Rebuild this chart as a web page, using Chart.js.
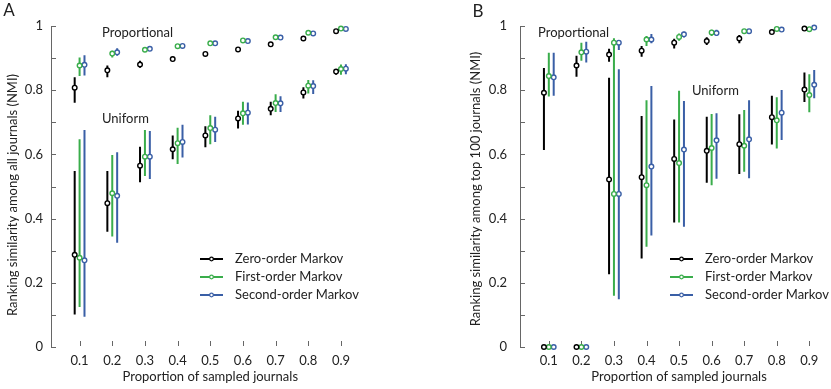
<!DOCTYPE html>
<html>
<head>
<meta charset="utf-8">
<script src="https://cdn.jsdelivr.net/npm/chart.js@4.4.1/dist/chart.umd.min.js"></script>
<style>
  html, body { margin: 0; padding: 0; background: #fff; }
  #wrap { position: relative; width: 831px; height: 389px; }
  canvas { position: absolute; top: 0; }
  #chartA { left: 0; }
  #chartB { left: 415px; }
</style>
</head>
<body>
<div id="wrap">
  <canvas id="chartA" width="415" height="389"></canvas>
  <canvas id="chartB" width="416" height="389"></canvas>
</div>
<script>
// Datos
const proportions = [0.1, 0.2, 0.3, 0.4, 0.5, 0.6, 0.7, 0.8, 0.9];
const xTickLabels = ['0.1', '0.2', '0.3', '0.4', '0.5', '0.6', '0.7', '0.8', '0.9'];
const yTickValues = [0, 0.2, 0.4, 0.6, 0.8, 1];
const yTickLabels = ['0', '0.2', '0.4', '0.6', '0.8', '1'];
const yTickMarks = [0, 0.1, 0.2, 0.3, 0.4, 0.5, 0.6, 0.7, 0.8, 0.9, 1];
const seriesNames = ['Zero-order Markov', 'First-order Markov', 'Second-order Markov'];

// Panel A: todas las revistas, muestreo proporcional
const allPropZeroMean = [0.808, 0.862, 0.880, 0.897, 0.913, 0.927, 0.943, 0.961, 0.984];
const allPropZeroLo   = [0.761, 0.840, 0.870, 0.890, 0.907, 0.922, 0.938, 0.957, 0.981];
const allPropZeroHi   = [0.840, 0.877, 0.892, 0.904, 0.919, 0.932, 0.948, 0.965, 0.987];
const allPropFirstMean = [0.877, 0.914, 0.926, 0.937, 0.946, 0.955, 0.965, 0.979, 0.992];
const allPropFirstLo   = [0.844, 0.902, 0.920, 0.933, 0.943, 0.952, 0.962, 0.977, 0.990];
const allPropFirstHi   = [0.902, 0.923, 0.932, 0.941, 0.949, 0.958, 0.968, 0.981, 0.994];
const allPropSecondMean = [0.879, 0.918, 0.929, 0.938, 0.946, 0.953, 0.964, 0.977, 0.991];
const allPropSecondLo   = [0.846, 0.907, 0.923, 0.934, 0.943, 0.950, 0.961, 0.975, 0.989];
const allPropSecondHi   = [0.909, 0.931, 0.935, 0.942, 0.949, 0.956, 0.967, 0.979, 0.993];

// Panel A: todas las revistas, muestreo uniforme
const allUnifZeroMean = [0.287, 0.448, 0.565, 0.616, 0.659, 0.712, 0.742, 0.793, 0.858];
const allUnifZeroLo   = [0.101, 0.359, 0.513, 0.585, 0.622, 0.681, 0.722, 0.774, 0.848];
const allUnifZeroHi   = [0.548, 0.548, 0.624, 0.659, 0.688, 0.736, 0.764, 0.809, 0.865];
const allUnifFirstMean = [0.278, 0.479, 0.593, 0.635, 0.682, 0.728, 0.760, 0.814, 0.866];
const allUnifFirstLo   = [0.125, 0.344, 0.533, 0.570, 0.632, 0.692, 0.732, 0.790, 0.848];
const allUnifFirstHi   = [0.647, 0.598, 0.676, 0.683, 0.722, 0.764, 0.787, 0.832, 0.880];
const allUnifSecondMean = [0.270, 0.471, 0.593, 0.639, 0.677, 0.730, 0.759, 0.813, 0.867];
const allUnifSecondLo   = [0.094, 0.325, 0.523, 0.590, 0.639, 0.693, 0.732, 0.788, 0.850];
const allUnifSecondHi   = [0.676, 0.607, 0.673, 0.692, 0.717, 0.762, 0.781, 0.831, 0.881];

// Panel B: top 100, muestreo proporcional
const topPropZeroMean = [0.792, 0.877, 0.911, 0.923, 0.948, 0.953, 0.961, 0.981, 0.992];
const topPropZeroLo   = [0.614, 0.842, 0.889, 0.904, 0.930, 0.941, 0.946, 0.975, 0.990];
const topPropZeroHi   = [0.869, 0.907, 0.929, 0.938, 0.960, 0.965, 0.972, 0.986, 0.995];
const topPropFirstMean = [0.844, 0.918, 0.948, 0.958, 0.966, 0.980, 0.984, 0.991, 0.990];
const topPropFirstLo   = [0.780, 0.892, 0.930, 0.938, 0.954, 0.969, 0.978, 0.988, 0.988];
const topPropFirstHi   = [0.917, 0.948, 0.962, 0.969, 0.977, 0.988, 0.990, 0.994, 0.993];
const topPropSecondMean = [0.840, 0.920, 0.948, 0.958, 0.974, 0.978, 0.984, 0.989, 0.995];
const topPropSecondLo   = [0.783, 0.886, 0.925, 0.946, 0.964, 0.969, 0.978, 0.986, 0.993];
const topPropSecondHi   = [0.917, 0.951, 0.954, 0.975, 0.982, 0.988, 0.990, 0.992, 0.997];

// Panel B: top 100, muestreo uniforme
const topUnifZeroMean = [0, 0, 0.522, 0.529, 0.586, 0.611, 0.632, 0.716, 0.802];
const topUnifZeroLo   = [0, 0, 0.227, 0.276, 0.388, 0.512, 0.539, 0.631, 0.763];
const topUnifZeroHi   = [0, 0, 0.839, 0.720, 0.709, 0.717, 0.725, 0.783, 0.855];
const topUnifFirstMean = [0, 0, 0.477, 0.504, 0.573, 0.620, 0.627, 0.706, 0.785];
const topUnifFirstLo   = [0, 0, 0.160, 0.312, 0.388, 0.504, 0.546, 0.618, 0.731];
const topUnifFirstHi   = [0, 0, 0.955, 0.769, 0.798, 0.726, 0.738, 0.778, 0.850];
const topUnifSecondMean = [0, 0, 0.477, 0.562, 0.615, 0.644, 0.647, 0.730, 0.817];
const topUnifSecondLo   = [0, 0, 0.149, 0.347, 0.375, 0.524, 0.526, 0.645, 0.775];
const topUnifSecondHi   = [0, 0, 0.865, 0.813, 0.766, 0.728, 0.769, 0.801, 0.863];

// Estilos
const seriesColors = ['#000000', '#3aad4b', '#3a5fa6'];
const seriesOffsets = [-0.015, 0, 0.015];
const FONT = 'Lato';
const TEXT_COLOR = '#222';

const panelA = {
    prop: [
        [allPropZeroMean, allPropZeroLo, allPropZeroHi],
        [allPropFirstMean, allPropFirstLo, allPropFirstHi],
        [allPropSecondMean, allPropSecondLo, allPropSecondHi]
    ],
    unif: [
        [allUnifZeroMean, allUnifZeroLo, allUnifZeroHi],
        [allUnifFirstMean, allUnifFirstLo, allUnifFirstHi],
        [allUnifSecondMean, allUnifSecondLo, allUnifSecondHi]
    ]
};
const panelB = {
    prop: [
        [topPropZeroMean, topPropZeroLo, topPropZeroHi],
        [topPropFirstMean, topPropFirstLo, topPropFirstHi],
        [topPropSecondMean, topPropSecondLo, topPropSecondHi]
    ],
    unif: [
        [topUnifZeroMean, topUnifZeroLo, topUnifZeroHi],
        [topUnifFirstMean, topUnifFirstLo, topUnifFirstHi],
        [topUnifSecondMean, topUnifSecondLo, topUnifSecondHi]
    ]
};

// Barras de error: segmentos separados por huecos (y: null)
function errorBarData(lo, hi, off) {
    const pts = [];
    proportions.forEach((p, i) => {
        pts.push({ x: p + off, y: lo[i] }, { x: p + off, y: hi[i] }, { x: p + off, y: null });
    });
    return pts;
}

function markerData(mean, off) {
    return proportions.map((p, i) => ({ x: p + off, y: mean[i] }));
}

function makeDatasets(panel) {
    const ds = [];
    ['prop', 'unif'].forEach(cond => {
        panel[cond].forEach((s, k) => {
            ds.push({
                type: 'line',
                data: errorBarData(s[1], s[2], seriesOffsets[k]),
                borderColor: seriesColors[k],
                borderWidth: 2,
                pointRadius: 0,
                showLine: true,
                spanGaps: false,
                order: 2,
                clip: false
            });
        });
    });
    ['prop', 'unif'].forEach(cond => {
        panel[cond].forEach((s, k) => {
            ds.push({
                type: 'scatter',
                data: markerData(s[0], seriesOffsets[k]),
                pointRadius: 2.3,
                pointBorderWidth: 1.4,
                pointBackgroundColor: '#fff',
                pointBorderColor: seriesColors[k],
                order: 1,
                clip: false
            });
        });
    });
    return ds;
}

// Plugin para ticks interiores, títulos, anotaciones y leyenda
function decor(opt) {
    return {
        id: 'decor',
        beforeDatasetsDraw(chart) {
            const ctx = chart.ctx;
            const { left, bottom } = chart.chartArea;
            const xs = chart.scales.x, ys = chart.scales.y;
            ctx.save();
            ctx.strokeStyle = '#666';
            ctx.lineWidth = 1;
            ctx.beginPath();
            yTickMarks.forEach(v => {
                const py = Math.round(ys.getPixelForValue(v)) + 0.5;
                ctx.moveTo(left, py);
                ctx.lineTo(left + 5, py);
            });
            proportions.forEach(v => {
                const px = Math.round(xs.getPixelForValue(v)) + 0.5;
                ctx.moveTo(px, bottom - 1);
                ctx.lineTo(px, bottom - 6);
            });
            ctx.stroke();
            ctx.restore();
        },
        afterDraw(chart) {
            const ctx = chart.ctx;
            const xs = chart.scales.x;
            ctx.save();
            ctx.fillStyle = TEXT_COLOR;
            ctx.textBaseline = 'middle';

            ctx.font = '17px ' + FONT;
            ctx.textAlign = 'center';
            ctx.fillText(opt.letter, opt.letterX, opt.letterY);

            ctx.font = '13px ' + FONT;
            ctx.fillText('Proportion of sampled journals', xs.getPixelForValue(0.5), 377);

            ctx.save();
            ctx.translate(opt.yTitleX, opt.yTitleY);
            ctx.rotate(-Math.PI / 2);
            ctx.fillText(opt.yTitle, 0, 0);
            ctx.restore();

            ctx.textAlign = 'left';
            ctx.fillText('Proportional', opt.propX, opt.propY);
            ctx.fillText('Uniform', opt.unifX, opt.unifY);

            seriesNames.forEach((name, k) => {
                const y = 259 + k * 18;
                ctx.strokeStyle = seriesColors[k];
                ctx.lineWidth = 2;
                ctx.beginPath();
                ctx.moveTo(opt.legendX, y);
                ctx.lineTo(opt.legendX + 23, y);
                ctx.stroke();
                ctx.beginPath();
                ctx.arc(opt.legendX + 11.5, y, 1.8, 0, Math.PI * 2);
                ctx.fillStyle = '#fff';
                ctx.fill();
                ctx.lineWidth = 1.2;
                ctx.stroke();
                ctx.fillStyle = TEXT_COLOR;
                ctx.fillText(name, opt.legendX + 35, y);
            });
            ctx.restore();
        }
    };
}

function makeChart(id, panel, opt) {
    return new Chart(document.getElementById(id), {
        type: 'scatter',
        data: { datasets: makeDatasets(panel) },
        options: {
            responsive: false,
            animation: false,
            devicePixelRatio: 1,
            layout: { padding: { left: 0, top: 26, right: opt.padRight, bottom: 0 } },
            plugins: { legend: { display: false }, tooltip: { enabled: false } },
            scales: {
                x: {
                    type: 'linear',
                    min: opt.xMin,
                    max: 0.95,
                    afterBuildTicks: s => { s.ticks = proportions.map(v => ({ value: v })); },
                    afterFit: s => { s.height = 42; },
                    grid: { display: false, drawTicks: false },
                    border: { display: false },
                    ticks: {
                        callback: (v, i) => xTickLabels[i],
                        padding: 6,
                        color: TEXT_COLOR,
                        font: { family: FONT, size: 13 },
                        maxRotation: 0,
                        autoSkip: false
                    }
                },
                y: {
                    type: 'linear',
                    min: 0,
                    max: 1,
                    afterBuildTicks: s => { s.ticks = yTickValues.map(v => ({ value: v })); },
                    afterFit: s => { s.width = opt.yWidth; },
                    grid: { display: false, drawTicks: false },
                    border: { display: true, color: '#666', width: 1 },
                    ticks: {
                        callback: (v, i) => yTickLabels[i],
                        padding: opt.yPad,
                        color: TEXT_COLOR,
                        font: { family: FONT, size: 13 },
                        autoSkip: false
                    }
                }
            }
        },
        plugins: [decor(opt)]
    });
}

makeChart('chartA', panelA, {
    letter: 'A', letterX: 9, letterY: 11,
    yTitle: 'Ranking similarity among all journals (NMI)', yTitleX: 13, yTitleY: 195,
    xMin: 0.0125, padRight: 57.7, yWidth: 51, yPad: 8,
    propX: 102, propY: 33, unifX: 102, unifY: 119,
    legendX: 200
});

makeChart('chartB', panelB, {
    letter: 'B', letterX: 63, letterY: 12,
    yTitle: 'Ranking similarity among top 100 journals (NMI)', yTitleX: 61, yTitleY: 189,
    xMin: 0.0115, padRight: 4.4, yWidth: 105, yPad: 13,
    propX: 123, propY: 33, unifX: 277, unifY: 91,
    legendX: 255
});
</script>
</body>
</html>
